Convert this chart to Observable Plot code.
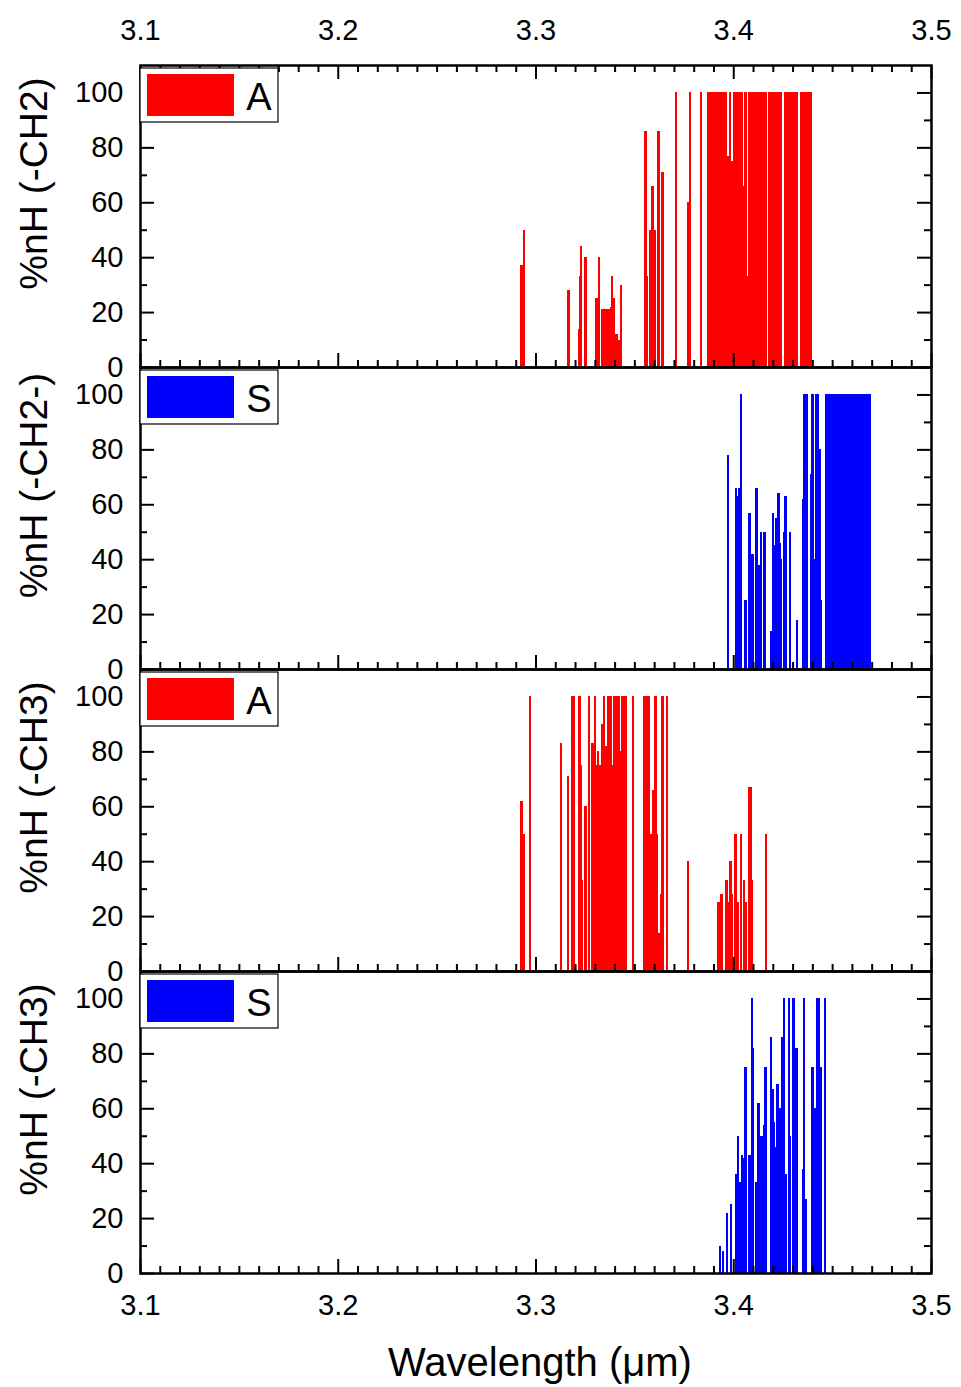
<!DOCTYPE html>
<html>
<head>
<meta charset="utf-8">
<script src="https://cdn.jsdelivr.net/npm/d3@7"></script>
<script src="https://cdn.jsdelivr.net/npm/@observablehq/plot@0.6"></script>
<style>
  html, body { margin: 0; padding: 0; background: white; }
  #chart { width: 961px; height: 1387px; }
</style>
</head>
<body>
<div id="chart"></div>
<script>
// ---------- data ----------
const panelTitles = ["%nH (-CH2)", "%nH (-CH2-)", "%nH (-CH3)", "%nH (-CH3)"];
const panelModes = ["A", "S", "A", "S"];
const panelColors = ["#ff0000", "#0000ff", "#ff0000", "#0000ff"];

// Panel 1: -CH2, asymmetric (A)
const ch2A_wl = [3.2927, 3.2940, 3.3164, 3.3218, 3.3222, 3.3227, 3.3250, 3.3306, 3.3311, 3.3319,
  3.3335, 3.3343, 3.3353, 3.3358, 3.3363, 3.3370, 3.3380, 3.3385, 3.3393, 3.3402, 3.3409, 3.3419, 3.3429,
  3.3554, 3.3562, 3.3578, 3.3583, 3.3589, 3.3596, 3.3603, 3.3619, 3.3636, 3.3641,
  3.3707, 3.3770, 3.3780, 3.3835,
  3.387, 3.388, 3.389, 3.390, 3.391, 3.392, 3.393, 3.394, 3.395, 3.396, 3.397, 3.398, 3.399,
  3.400, 3.401, 3.402, 3.403, 3.404, 3.405, 3.406, 3.407, 3.408, 3.409, 3.410, 3.411, 3.412,
  3.413, 3.414, 3.415, 3.416, 3.418, 3.419, 3.420, 3.421, 3.422, 3.423, 3.424, 3.426, 3.427,
  3.428, 3.429, 3.430, 3.431, 3.432, 3.434, 3.435, 3.436, 3.437, 3.438, 3.439];
const ch2A_pct = [37, 50, 28, 14, 33, 44, 40, 25, 21, 40,
  21, 21, 21, 18, 21, 21, 22, 33, 25, 12, 12, 10, 30,
  86, 33, 50, 50, 66, 50, 50, 86, 71, 71,
  100, 60, 100, 100,
  100, 100, 100, 100, 100, 100, 100, 100, 100, 100, 77, 100, 75,
  100, 100, 100, 100, 100, 66, 100, 33, 100, 100, 100, 100, 100,
  100, 100, 100, 100, 100, 100, 100, 100, 100, 100, 100, 100, 100,
  100, 100, 100, 100, 100, 100, 100, 100, 100, 100, 100];

// Panel 2: -CH2-, symmetric (S)
const ch2S_wl = [3.3970, 3.4012, 3.4021, 3.4029, 3.4036, 3.4059, 3.4080, 3.4095, 3.4115, 3.4127,
  3.4139, 3.4156, 3.4189, 3.4198, 3.4204, 3.4216, 3.4226, 3.4233, 3.4240, 3.4253, 3.4262, 3.4284,
  3.4319, 3.4351, 3.4354, 3.4360, 3.4368, 3.4393, 3.4398, 3.4407, 3.4417, 3.4425, 3.4435, 3.4440,
  3.447, 3.448, 3.449, 3.450, 3.451, 3.452, 3.453, 3.454, 3.455, 3.456, 3.457, 3.458, 3.459,
  3.460, 3.461, 3.462, 3.463, 3.464, 3.465, 3.466, 3.467, 3.468, 3.469];
const ch2S_pct = [78, 66, 63, 66, 100, 25, 57, 42, 66, 38,
  50, 50, 14, 57, 45, 55, 64, 46, 40, 50, 63, 50,
  18, 62, 100, 72, 100, 71, 100, 40, 100, 100, 80, 25,
  100, 100, 100, 100, 100, 100, 100, 100, 100, 100, 100, 100, 100,
  100, 100, 100, 100, 100, 100, 100, 100, 100, 100];

// Panel 3: -CH3, asymmetric (A)
const ch3A_wl = [3.2927, 3.2940, 3.2969, 3.3127, 3.3163, 3.3185, 3.3193, 3.3220, 3.3223, 3.3228,
  3.3232, 3.3250, 3.3267, 3.3286, 3.3291, 3.3299, 3.3306, 3.3314, 3.3319, 3.3326, 3.3329,
  3.3335, 3.3341, 3.3345, 3.3348, 3.3354, 3.3360, 3.3363, 3.3370, 3.3374, 3.3378, 3.3387,
  3.3390, 3.3394, 3.3399, 3.3404, 3.3410, 3.3417, 3.3424, 3.3429, 3.3434, 3.3439, 3.3444,
  3.3449, 3.3454, 3.3490, 3.3545, 3.3552, 3.3559, 3.3566, 3.3571, 3.3582, 3.3593, 3.3599,
  3.3604, 3.3609, 3.3620, 3.3631, 3.3640, 3.3663, 3.3770,
  3.3923, 3.3928, 3.3935, 3.3938, 3.3963, 3.3979, 3.3984, 3.3990, 3.4009, 3.4022, 3.4038,
  3.4051, 3.4063, 3.4080, 3.4085, 3.4093, 3.4164];
const ch3A_pct = [62, 50, 100, 83, 71, 100, 100, 100, 85, 75,
  33, 60, 100, 83, 83, 100, 75, 80, 60, 75, 70,
  90, 78, 100, 72, 82, 80, 100, 100, 72, 100, 75,
  67, 100, 75, 100, 100, 100, 66, 80, 100, 70, 100,
  80, 100, 100, 100, 100, 100, 100, 100, 50, 66, 66,
  100, 50, 14, 28, 100, 100, 40,
  25, 14, 20, 28, 33, 25, 40, 28, 50, 25, 50,
  33, 25, 67, 67, 33, 50];

// Panel 4: -CH3, symmetric (S)
const ch3S_wl = [3.3931, 3.3946, 3.3966, 3.3986, 3.4012, 3.4017, 3.4023, 3.4032, 3.4042, 3.4052,
  3.4059, 3.4079, 3.4086, 3.4091, 3.4098, 3.4114, 3.4126, 3.4135, 3.4143, 3.4153, 3.4160,
  3.4189, 3.4197, 3.4204, 3.4216, 3.4222, 3.4229, 3.4236, 3.4244, 3.4253, 3.4261, 3.4278,
  3.4283, 3.4302, 3.4318, 3.4350, 3.4354, 3.4362, 3.4398, 3.4404, 3.4415, 3.4421, 3.4428,
  3.4438, 3.4460];
const ch3S_pct = [10, 8, 22, 25, 36, 33, 50, 33, 43, 42,
  75, 43, 43, 100, 82, 33, 62, 50, 50, 54, 75,
  86, 67, 55, 46, 69, 54, 60, 86, 100, 36, 100,
  50, 100, 82, 38, 100, 27, 75, 60, 60, 100, 100,
  75, 100];

// axis tick values
const xMajor = [3.1, 3.2, 3.3, 3.4, 3.5];
const xMinor = [3.11, 3.12, 3.13, 3.14, 3.15, 3.16, 3.17, 3.18, 3.19,
  3.21, 3.22, 3.23, 3.24, 3.25, 3.26, 3.27, 3.28, 3.29,
  3.31, 3.32, 3.33, 3.34, 3.35, 3.36, 3.37, 3.38, 3.39,
  3.41, 3.42, 3.43, 3.44, 3.45, 3.46, 3.47, 3.48, 3.49];
const yMajor = [0, 20, 40, 60, 80, 100];
const yMinor = [10, 30, 50, 70, 90];
const xTitle = "Wavelength (μm)";

// ---------- build table ----------
const series = [[ch2A_wl, ch2A_pct], [ch2S_wl, ch2S_pct], [ch3A_wl, ch3A_pct], [ch3S_wl, ch3S_pct]];
const rows = [];
series.forEach(([wl, pct], p) => wl.forEach((w, i) => rows.push({panel: p, wl: w, pct: pct[i], color: panelColors[p]})));

// ---------- layout ----------
const W = 961, H = 1387, mT = 65, mB = 114, mL = 140, mR = 30;
const facetH = (H - mT - mB) / 4;
const frameW = W - mL - mR;
const font = "'Liberation Sans', Arial, sans-serif";

const chart = Plot.plot({
  width: W, height: H,
  marginTop: mT, marginBottom: mB, marginLeft: mL, marginRight: mR,
  x: {domain: [3.1, 3.5], axis: null},
  y: {domain: [0, 110], axis: null},
  fy: {domain: [0, 1, 2, 3], axis: null, padding: 0},
  color: {type: "identity"},
  style: {fontFamily: font, background: "white", color: "black", overflow: "visible"},
  marks: [
    Plot.ruleX(rows, {x: "wl", y1: 0, y2: "pct", fy: "panel", stroke: "color", strokeWidth: 2.4, shapeRendering: "crispEdges"}),
    // y ticks left & right (inward)
    Plot.tickY(yMajor, {y: d => d, insetRight: frameW - 14, stroke: "black", strokeWidth: 2}),
    Plot.tickY(yMinor, {y: d => d, insetRight: frameW - 7, stroke: "black", strokeWidth: 2}),
    Plot.tickY(yMajor, {y: d => d, insetLeft: frameW - 14, stroke: "black", strokeWidth: 2}),
    Plot.tickY(yMinor, {y: d => d, insetLeft: frameW - 7, stroke: "black", strokeWidth: 2}),
    // x ticks at the bottom of every panel (pointing up)
    Plot.tickX(xMajor, {x: d => d, insetTop: facetH - 14, stroke: "black", strokeWidth: 2}),
    Plot.tickX(xMinor, {x: d => d, insetTop: facetH - 7, stroke: "black", strokeWidth: 2}),
    // x ticks on the top of the first panel (pointing down)
    Plot.tickX(xMajor, {x: d => d, fy: () => 0, insetBottom: facetH - 14, stroke: "black", strokeWidth: 2}),
    Plot.tickX(xMinor, {x: d => d, fy: () => 0, insetBottom: facetH - 7, stroke: "black", strokeWidth: 2}),
    Plot.frame({stroke: "black", strokeWidth: 2.5}),
    // y tick labels
    Plot.text(yMajor, {y: d => d, text: d => String(d), frameAnchor: "left", dx: -17, textAnchor: "end", lineAnchor: "middle", fontSize: 29, fill: "black"}),
    // x tick labels, top and bottom
    Plot.text(xMajor, {x: d => d, fy: () => 0, text: d => d.toFixed(1), frameAnchor: "top", dy: -35, lineAnchor: "middle", fontSize: 29, fill: "black"}),
    Plot.text(xMajor, {x: d => d, fy: () => 3, text: d => d.toFixed(1), frameAnchor: "bottom", dy: 32, lineAnchor: "middle", fontSize: 29, fill: "black"}),
    // x title
    Plot.text([xTitle], {fy: () => 3, text: d => d, frameAnchor: "bottom", dx: 4, dy: 90, lineAnchor: "middle", textAnchor: "middle", fontSize: 40, fill: "black"}),
    // y titles
    Plot.text(panelTitles, {fy: (d, i) => i, text: d => d, frameAnchor: "left", dx: -106, dy: -33, rotate: -90, textAnchor: "middle", lineAnchor: "middle", fontSize: 39, fill: "black"})
  ]
});
document.getElementById("chart").appendChild(chart);

// ---------- legends (one per panel, top-left inside the frame) ----------
const svg = d3.select(chart);
const lg = svg.append("g").attr("font-family", font);
panelModes.forEach((m, i) => {
  const top = mT + i * facetH;
  const g = lg.append("g").attr("transform", `translate(${mL},${top})`);
  g.append("rect").attr("x", 0).attr("y", 3).attr("width", 138).attr("height", 54)
    .attr("fill", "white").attr("stroke", "black").attr("stroke-width", 1.2);
  g.append("rect").attr("x", 7).attr("y", 9).attr("width", 87).attr("height", 42)
    .attr("fill", panelColors[i]);
  g.append("text").attr("x", 119).attr("y", 45).attr("text-anchor", "middle")
    .attr("font-size", 38).attr("fill", "black").text(m);
});
</script>
</body>
</html>
